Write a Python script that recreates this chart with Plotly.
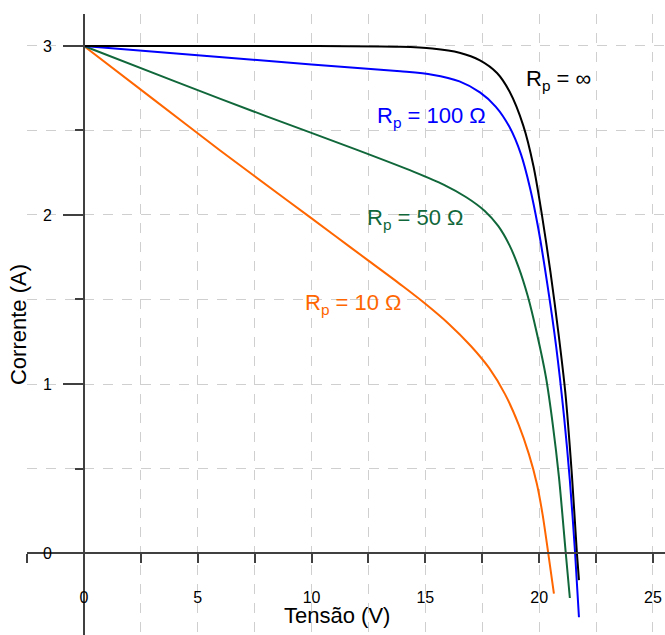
import plotly.graph_objects as go

# ---- data ----
v_inf = [0, 5, 10, 13.9, 15.3, 16.5, 17.4, 18.15, 18.7, 19.3, 19.75, 20.1, 20.5, 20.85, 21.15, 21.44, 21.66, 21.75]
i_inf = [3.0, 3.0, 3.0, 2.995, 2.985, 2.96, 2.915, 2.84, 2.73, 2.53, 2.29, 2.02, 1.66, 1.3, 0.95, 0.46, 0.0, -0.16]

v_100 = [0, 5, 10, 13.9, 15.3, 16.5, 17.4, 18.1, 18.7, 19.2, 19.6, 19.95, 20.35, 20.75, 21.1, 21.35, 21.58, 21.75]
i_100 = [3.0, 2.945, 2.89, 2.85, 2.83, 2.79, 2.725, 2.64, 2.52, 2.36, 2.16, 1.93, 1.6, 1.22, 0.8, 0.43, 0.0, -0.38]

v_50 = [0, 4, 8, 12, 14.5, 15.8, 16.8, 17.6, 18.2, 18.7, 19.1, 19.5, 19.9, 20.3, 20.6, 20.87, 21.17, 21.35]
i_50 = [3.0, 2.79, 2.585, 2.385, 2.255, 2.18, 2.105, 2.025, 1.935, 1.82, 1.69, 1.52, 1.3, 1.04, 0.76, 0.45, 0.0, -0.266]

v_10 = [0, 3, 6, 9, 11, 12.5, 14, 15, 16, 17, 17.8, 18.5, 19.1, 19.55, 19.9, 20.15, 20.4, 20.65]
i_10 = [3.0, 2.69, 2.38, 2.08, 1.88, 1.73, 1.58, 1.475, 1.36, 1.225, 1.095, 0.94, 0.76, 0.585, 0.41, 0.23, 0.0, -0.24]

x_ticks = [0, 5, 10, 15, 20, 25]
y_ticks = [0, 1, 2, 3]

labels = ["R<sub>p</sub> = ∞", "R<sub>p</sub> = 100 Ω", "R<sub>p</sub> = 50 Ω", "R<sub>p</sub> = 10 Ω"]
x_title = "Tensão (V)"
y_title = "Corrente (A)"

# ---- figure ----
FONT = "Liberation Sans, Arial, Helvetica, sans-serif"
colors = ["#000000", "#0000ff", "#10673a", "#ff6600"]

fig = go.Figure()
series = [(v_10, i_10, colors[3]), (v_50, i_50, colors[2]), (v_100, i_100, colors[1]), (v_inf, i_inf, colors[0])]
for v, i, c in series:
    fig.add_trace(go.Scatter(x=v, y=i, mode="lines",
                             line=dict(color=c, width=2, shape="spline", smoothing=0.8),
                             showlegend=False, hoverinfo="skip"))

label_pos = [(19.33, 2.80), (12.79, 2.577), (12.35, 1.979), (9.62, 1.476)]
for txt, (x, y), c in zip(labels, label_pos, colors):
    fig.add_annotation(x=x, y=y, xref="x", yref="y", text=txt, showarrow=False,
                       xanchor="left", yanchor="middle",
                       font=dict(family=FONT, size=22, color=c))

fig.add_annotation(x=0.486, y=0.032, xref="paper", yref="paper", text=x_title,
                   showarrow=False, xanchor="center", yanchor="middle",
                   font=dict(family=FONT, size=22, color="black"))
fig.add_annotation(x=-0.0133, y=0.5, xref="paper", yref="paper", text=y_title,
                   showarrow=False, xanchor="center", yanchor="middle", textangle=-90,
                   font=dict(family=FONT, size=22, color="black"))

grid = dict(gridcolor="#cfcfcf", gridwidth=1, griddash="10px,9px")
fig.update_xaxes(range=[-2.5, 25.53], anchor="free", position=0.132,
                 showline=True, linecolor="#404040", linewidth=1.5,
                 zeroline=False, ticks="outside", ticklen=9, tickwidth=1.5, tickcolor="#404040",
                 tickvals=x_ticks, showgrid=True, **grid,
                 minor=dict(dtick=2.5, tick0=0, ticks="outside", ticklen=9, tickwidth=1.5,
                            tickcolor="#404040", showgrid=True, **grid),
                 tickfont=dict(family=FONT, size=16, color="black"),
                 ticklabelstandoff=21)
fig.update_yaxes(range=[-0.485, 3.189], anchor="free", position=0.0893,
                 showline=True, linecolor="#404040", linewidth=1.5,
                 zeroline=False, ticks="outside", ticklen=20, tickwidth=1.5, tickcolor="#404040",
                 tickvals=y_ticks, showgrid=True, **grid,
                 minor=dict(dtick=0.5, tick0=0, ticks="outside", ticklen=8, tickwidth=1.5,
                            tickcolor="#404040", showgrid=True, **grid),
                 tickfont=dict(family=FONT, size=16, color="black"),
                 ticklabelstandoff=8)

fig.update_layout(width=665, height=635, margin=dict(l=27, r=0, t=14, b=0),
                  plot_bgcolor="white", paper_bgcolor="white",
                  font=dict(family=FONT))

fig.write_html("out.html")
